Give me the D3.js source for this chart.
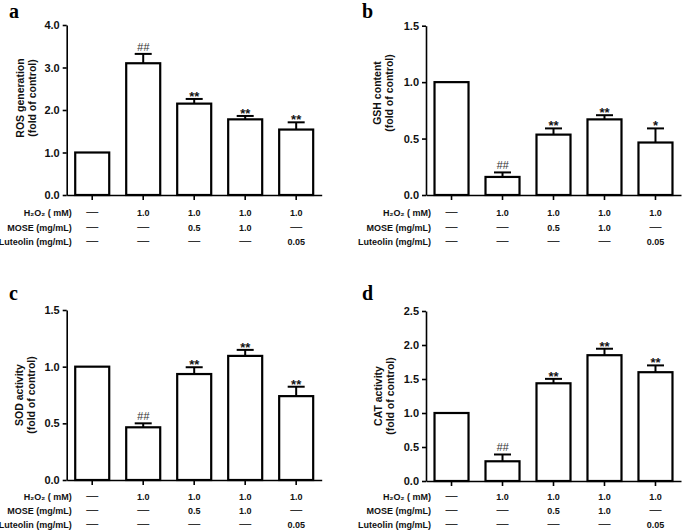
<!DOCTYPE html>
<html>
<head>
<meta charset="utf-8">
<script src="https://cdn.jsdelivr.net/npm/d3@7/dist/d3.min.js"></script>
<style>
  html, body { margin: 0; padding: 0; background: #fff; }
  svg { display: block; }
</style>
</head>
<body>
<svg id="chart" width="685" height="532"></svg>
<script>
// ---------------- DATA ----------------
const groups = ["G1", "G2", "G3", "G4", "G5"];

const rosMean = [1.0, 3.10, 2.15, 1.78, 1.54];
const rosErr  = [0, 0.22, 0.11, 0.08, 0.17];
const rosSig  = ["", "##", "**", "**", "**"];

const gshMean = [1.0, 0.16, 0.535, 0.67, 0.465];
const gshErr  = [0, 0.04, 0.055, 0.037, 0.125];
const gshSig  = ["", "##", "**", "**", "*"];

const sodMean = [1.0, 0.465, 0.935, 1.095, 0.74];
const sodErr  = [0, 0.035, 0.06, 0.053, 0.083];
const sodSig  = ["", "##", "**", "**", "**"];

const catMean = [1.0, 0.29, 1.437, 1.85, 1.60];
const catErr  = [0, 0.10, 0.065, 0.095, 0.10];
const catSig  = ["", "##", "**", "**", "**"];

const rosTicks = [0, 1, 2, 3, 4];
const gshTicks = [0, 0.5, 1.0, 1.5];
const sodTicks = [0, 0.5, 1.0, 1.5];
const catTicks = [0, 0.5, 1.0, 1.5, 2.0, 2.5];

const rowLabels = ["H\u2082O\u2082 ( mM)", "MOSE (mg/mL)", "Luteolin (mg/mL)"];
const h2o2Row     = ["\u2014", "1.0", "1.0", "1.0", "1.0"];
const moseRow     = ["\u2014", "\u2014", "0.5", "1.0", "\u2014"];
const luteolinRow = ["\u2014", "\u2014", "\u2014", "\u2014", "0.05"];
const tableRows = [h2o2Row, moseRow, luteolinRow];

// ---------------- LAYOUT ----------------
const svg = d3.select("#chart");
const axisW = 255;
const SANS = "'Liberation Sans', Arial, sans-serif";
const SERIF = "'Liberation Serif', 'Times New Roman', serif";

const panels = [
  {letter: "a", mean: rosMean, err: rosErr, sig: rosSig, ticks: rosTicks,
   title: ["ROS generation", "(fold of control)"],
   x0: 66.7, yTop: 25, yBot: 195, lx: 9, ly: 18, t1: 20, t2: 32, tc: 98, rows: [21, 35.5, 50]},
  {letter: "b", mean: gshMean, err: gshErr, sig: gshSig, ticks: gshTicks,
   title: ["GSH content", "(fold of control)"],
   x0: 426, yTop: 25.7, yBot: 195, lx: 362, ly: 18, t1: 377, t2: 389, tc: 93, rows: [21, 35.5, 50]},
  {letter: "c", mean: sodMean, err: sodErr, sig: sodSig, ticks: sodTicks,
   title: ["SOD activity", "(fold of control)"],
   x0: 66.7, yTop: 310, yBot: 480, lx: 9, ly: 300, t1: 19, t2: 31, tc: 395, rows: [20, 34, 48]},
  {letter: "d", mean: catMean, err: catErr, sig: catSig, ticks: catTicks,
   title: ["CAT activity", "(fold of control)"],
   x0: 426, yTop: 311, yBot: 481, lx: 362, ly: 300, t1: 378, t2: 390, tc: 396, rows: [19, 33, 47]}
];

panels.forEach(drawPanel);

function drawPanel(p) {
  const g = svg.append("g").style("font-family", SANS);
  const yMax = p.ticks[p.ticks.length - 1];
  const x = d3.scaleBand().domain(groups)
    .range([p.x0, p.x0 + axisW]).paddingInner(0.333).paddingOuter(0.167);
  const y = d3.scaleLinear().domain([0, yMax]).range([p.yBot, p.yTop]);
  const bw = x.bandwidth();

  const data = groups.map((k, i) => ({k, m: p.mean[i], e: p.err[i], s: p.sig[i]}));

  // bars
  g.selectAll("rect.bar").data(data).join("rect")
    .attr("class", "bar")
    .attr("x", d => x(d.k))
    .attr("y", d => y(d.m))
    .attr("width", bw)
    .attr("height", d => p.yBot - y(d.m))
    .attr("fill", "#fff")
    .attr("stroke", "#000")
    .attr("stroke-width", 2.2);

  // error bars (upper only)
  const eb = data.filter(d => d.e > 0);
  g.selectAll("line.ev").data(eb).join("line")
    .attr("x1", d => x(d.k) + bw / 2).attr("x2", d => x(d.k) + bw / 2)
    .attr("y1", d => y(d.m)).attr("y2", d => y(d.m + d.e))
    .attr("stroke", "#000").attr("stroke-width", 2);
  g.selectAll("line.ec").data(eb).join("line")
    .attr("x1", d => x(d.k) + bw / 4).attr("x2", d => x(d.k) + bw * 3 / 4)
    .attr("y1", d => y(d.m + d.e)).attr("y2", d => y(d.m + d.e))
    .attr("stroke", "#000").attr("stroke-width", 2);

  // significance marks
  g.selectAll("text.sig").data(data.filter(d => d.s)).join("text")
    .attr("x", d => x(d.k) + bw / 2)
    .attr("y", d => d.s[0] === "#" ? y(d.m + d.e) - 3 : y(d.m + d.e) + 2)
    .attr("text-anchor", "middle")
    .attr("font-size", d => d.s[0] === "#" ? 11 : 13)
    .attr("font-weight", d => d.s[0] === "#" ? "normal" : "bold")
    .attr("font-style", d => d.s[0] === "#" ? "italic" : "normal")
    .attr("fill", d => d.s[0] === "#" ? "#333" : "#111")
    .text(d => d.s);

  // y axis
  const ya = d3.axisLeft(y).tickValues(p.ticks).tickFormat(d3.format(".1f"))
    .tickSize(4).tickSizeOuter(0).tickPadding(3);
  const yg = g.append("g").attr("transform", `translate(${p.x0},0)`).call(ya);
  yg.selectAll("path, line").attr("stroke", "#000").attr("stroke-width", 1.6);
  yg.selectAll("text").attr("font-size", 11).attr("font-weight", "bold")
    .attr("fill", "#111").style("font-family", SANS);

  // x axis
  const xa = d3.axisBottom(x).tickSize(5).tickSizeOuter(0).tickFormat("");
  const xg = g.append("g").attr("transform", `translate(0,${p.yBot})`).call(xa);
  xg.selectAll("path, line").attr("stroke", "#000").attr("stroke-width", 1.6);

  // y title
  p.title.forEach((t, i) => {
    const tx = i === 0 ? p.t1 : p.t2;
    g.append("text")
      .attr("transform", `translate(${tx},${p.tc}) rotate(-90)`)
      .attr("text-anchor", "middle")
      .attr("dominant-baseline", "central")
      .attr("font-size", 10.5).attr("font-weight", "bold").attr("fill", "#111")
      .text(t);
  });

  // panel letter
  g.append("text")
    .attr("x", p.lx).attr("y", p.ly)
    .style("font-family", SERIF)
    .attr("font-size", 20).attr("font-weight", "bold")
    .text(p.letter);

  // treatment table
  rowLabels.forEach((lab, r) => {
    g.append("text")
      .attr("x", p.x0 + 5).attr("y", p.yBot + p.rows[r])
      .attr("text-anchor", "end")
      .attr("font-size", 9).attr("font-weight", "bold").attr("fill", "#111")
      .text(lab);
    g.selectAll(null).data(tableRows[r]).join("text")
      .attr("x", (d, i) => x(groups[i]) + bw / 2)
      .attr("y", p.yBot + p.rows[r])
      .attr("text-anchor", "middle")
      .attr("font-size", d => d === "\u2014" ? 12 : 9)
      .attr("font-weight", d => d === "\u2014" ? "normal" : "bold")
      .attr("fill", d => d === "\u2014" ? "#333" : "#111")
      .text(d => d);
  });
}
</script>
</body>
</html>
